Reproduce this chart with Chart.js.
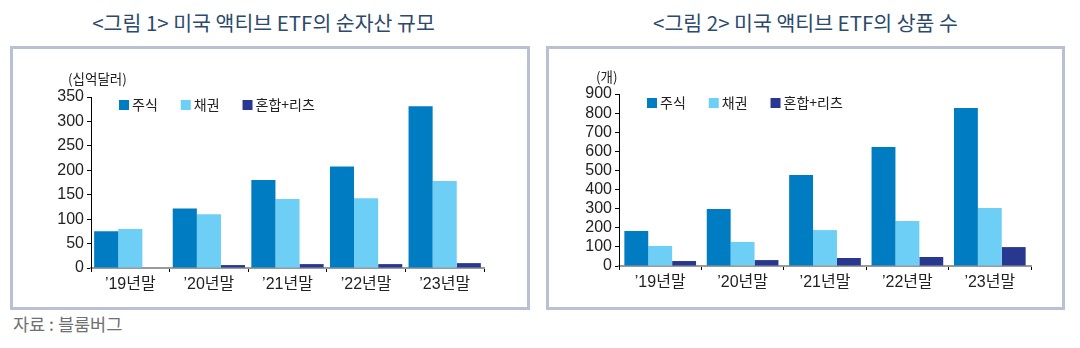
<!DOCTYPE html>
<html>
<head>
<meta charset="utf-8">
<script src="https://cdn.jsdelivr.net/npm/chart.js@4"></script>
<style>
  body { margin: 0; width: 1080px; height: 348px; background: #fff; position: relative; overflow: hidden;
         font-family: "Noto Sans CJK KR", sans-serif; }
  .title { position: absolute; top: 7px; font-size: 20.5px; color: #2c4a6c; text-align: center; line-height: 30px; white-space: nowrap; }
  .box { position: absolute; top: 46px; height: 258px; border: 3px solid #b9c0d4; }
  .box canvas { display: block; }
  .src { position: absolute; left: 13px; top: 311px; font-size: 17.5px; color: #707070; }
</style>
</head>
<body>
<div class="title" style="left:10px;width:507px">&lt;그림 1&gt; 미국 액티브 ETF의 순자산 규모</div>
<div class="title" style="left:546px;width:519px">&lt;그림 2&gt; 미국 액티브 ETF의 상품 수</div>
<div class="box" style="left:10px;width:514px"><canvas id="aum" width="514" height="258"></canvas></div>
<div class="box" style="left:546px;width:513px"><canvas id="count" width="513" height="258"></canvas></div>
<div class="src">자료 : 블룸버그</div>

<script>
// Year-end categories
const years = ["’19년말", "’20년말", "’21년말", "’22년말", "’23년말"];
const seriesNames = ["주식", "채권", "혼합+리츠"];
const seriesColors = ["#007cc2", "#6dcff6", "#283891"];

// Net assets, billion USD
const aumEquity = [75, 122, 180, 208, 331];
const aumBond = [80, 110, 141, 143, 178];
const aumMixed = [0, 6, 8, 8, 10];

// Number of products
const cntEquity = [183, 298, 476, 623, 827];
const cntBond = [105, 126, 188, 235, 303];
const cntMixed = [26, 31, 42, 47, 99];

const tickFont = { family: '"Liberation Sans", "Noto Sans CJK KR", sans-serif', size: 16 };
const textColor = "#222";

// Unit label above the y axis and a legend row inside the plot area
const annotate = {
  id: "annotate",
  afterDraw(chart, args, opts) {
    const { ctx, chartArea } = chart;
    ctx.save();
    ctx.textBaseline = "middle";
    ctx.fillStyle = textColor;
    ctx.font = '13.5px "Noto Sans CJK KR"';
    ctx.fillText(opts.unit, chartArea.left - 23, chartArea.top + opts.unitDy);

    ctx.font = '14px "Noto Sans CJK KR"';
    let x = chartArea.left + 28;
    const y = chartArea.top + opts.legendDy;
    chart.data.datasets.forEach(ds => {
      ctx.fillStyle = ds.backgroundColor;
      ctx.fillRect(x, y - 5, 10, 10);
      ctx.fillStyle = textColor;
      ctx.fillText(ds.label, x + 13, y);
      x += 13 + ctx.measureText(ds.label).width + 23;
    });
    ctx.restore();
  }
};

function makeChart(id, values, cfg) {
  return new Chart(document.getElementById(id), {
    type: "bar",
    data: {
      labels: years,
      datasets: values.map((d, i) => ({
        label: seriesNames[i],
        data: d,
        backgroundColor: seriesColors[i],
        categoryPercentage: cfg.cat,
        barPercentage: 1
      }))
    },
    options: {
      responsive: false,
      animation: false,
      layout: { padding: cfg.pad },
      plugins: {
        legend: { display: false },
        tooltip: { enabled: false },
        annotate: { unit: cfg.unit, unitDy: cfg.unitDy, legendDy: cfg.legendDy }
      },
      scales: {
        x: {
          grid: { drawOnChartArea: false, drawTicks: true, tickLength: 4, color: "#000", offset: true },
          border: { color: "#9a9a9a", width: 2 },
          ticks: { font: tickFont, color: textColor, padding: 3, maxRotation: 0, autoSkip: false },
          afterFit: s => { s.height = cfg.xh; }
        },
        y: {
          min: 0,
          max: cfg.max,
          ticks: { stepSize: cfg.step, font: tickFont, color: textColor, padding: 3, autoSkip: false },
          grid: { drawOnChartArea: false, drawTicks: true, tickLength: 4, color: "#000" },
          border: { color: "#000", width: 1 },
          afterFit: s => { s.width = cfg.yw; }
        }
      }
    },
    plugins: [annotate]
  });
}

makeChart("aum", [aumEquity, aumBond, aumMixed], {
  max: 350, step: 50, cat: 0.92, unit: "(십억달러)", unitDy: -18, legendDy: 8,
  pad: { left: 0, top: 48, right: 43, bottom: 0 }, yw: 78, xh: 39
});
makeChart("count", [cntEquity, cntBond, cntMixed], {
  max: 900, step: 100, cat: 0.87, unit: "(개)", unitDy: -17, legendDy: 9,
  pad: { left: 0, top: 45, right: 31, bottom: 0 }, yw: 70, xh: 41
});
</script>
</body>
</html>
